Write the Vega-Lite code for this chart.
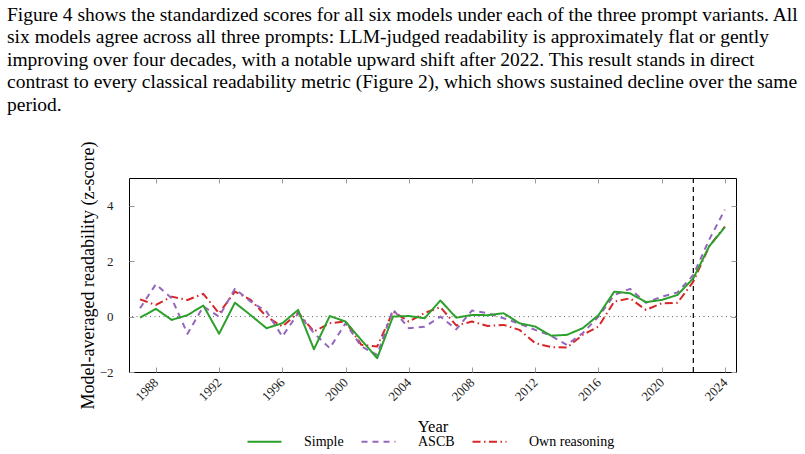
{
  "$schema": "https://vega.github.io/schema/vega-lite/v6.json",
  "width": 607,
  "height": 194,
  "autosize": {"type": "none"},
  "padding": {"left": 129, "top": 178, "right": 69, "bottom": 82},
  "background": "white",
  "title": {
    "text": [
      "Figure 4 shows the standardized scores for all six models under each of the three prompt variants. All",
      "six models agree across all three prompts: LLM-judged readability is approximately flat or gently",
      "improving over four decades, with a notable upward shift after 2022. This result stands in direct",
      "contrast to every classical readability metric (Figure 2), which shows sustained decline over the same",
      "period."
    ],
    "anchor": "start",
    "frame": "group",
    "dx": -122,
    "font": "Liberation Serif",
    "fontSize": 19.5,
    "fontWeight": "normal",
    "lineHeight": 22.4,
    "color": "#000000",
    "offset": 26
  },
  "config": {
    "view": {"stroke": "#000000", "strokeWidth": 1},
    "font": "Liberation Serif",
    "axis": {
      "grid": false,
      "domain": false,
      "tickColor": "#9a9a9a",
      "tickSize": -5,
      "tickWidth": 1,
      "labelFont": "Liberation Serif",
      "labelFontSize": 13,
      "labelColor": "#222222",
      "titleFont": "Liberation Serif",
      "titleFontWeight": "normal",
      "titleColor": "#000000"
    },
    "legend": {
      "labelFont": "Liberation Serif",
      "labelFontSize": 14,
      "labelFontWeight": "normal",
      "labelColor": "#000000"
    }
  },
  "datasets": {
    "scores": [
      {"year": 1987, "prompt": "Own reasoning", "z": 0.62},
      {"year": 1988, "prompt": "Own reasoning", "z": 0.42},
      {"year": 1989, "prompt": "Own reasoning", "z": 0.72},
      {"year": 1990, "prompt": "Own reasoning", "z": 0.6},
      {"year": 1991, "prompt": "Own reasoning", "z": 0.82},
      {"year": 1992, "prompt": "Own reasoning", "z": 0.12},
      {"year": 1993, "prompt": "Own reasoning", "z": 0.9},
      {"year": 1994, "prompt": "Own reasoning", "z": 0.6},
      {"year": 1995, "prompt": "Own reasoning", "z": 0.0},
      {"year": 1996, "prompt": "Own reasoning", "z": -0.36},
      {"year": 1997, "prompt": "Own reasoning", "z": 0.14},
      {"year": 1998, "prompt": "Own reasoning", "z": -0.54},
      {"year": 1999, "prompt": "Own reasoning", "z": -0.24},
      {"year": 2000, "prompt": "Own reasoning", "z": -0.18},
      {"year": 2001, "prompt": "Own reasoning", "z": -1.02},
      {"year": 2002, "prompt": "Own reasoning", "z": -1.08},
      {"year": 2003, "prompt": "Own reasoning", "z": 0.18},
      {"year": 2004, "prompt": "Own reasoning", "z": -0.18},
      {"year": 2005, "prompt": "Own reasoning", "z": 0.13},
      {"year": 2006, "prompt": "Own reasoning", "z": 0.34},
      {"year": 2007, "prompt": "Own reasoning", "z": -0.32},
      {"year": 2008, "prompt": "Own reasoning", "z": -0.18},
      {"year": 2009, "prompt": "Own reasoning", "z": -0.34},
      {"year": 2010, "prompt": "Own reasoning", "z": -0.3},
      {"year": 2011, "prompt": "Own reasoning", "z": -0.48},
      {"year": 2012, "prompt": "Own reasoning", "z": -0.96},
      {"year": 2013, "prompt": "Own reasoning", "z": -1.1},
      {"year": 2014, "prompt": "Own reasoning", "z": -1.12},
      {"year": 2015, "prompt": "Own reasoning", "z": -0.66},
      {"year": 2016, "prompt": "Own reasoning", "z": -0.36},
      {"year": 2017, "prompt": "Own reasoning", "z": 0.54},
      {"year": 2018, "prompt": "Own reasoning", "z": 0.66},
      {"year": 2019, "prompt": "Own reasoning", "z": 0.24},
      {"year": 2020, "prompt": "Own reasoning", "z": 0.48},
      {"year": 2021, "prompt": "Own reasoning", "z": 0.5},
      {"year": 2022, "prompt": "Own reasoning", "z": 1.26},
      {"year": 2023, "prompt": "Own reasoning", "z": 2.53},
      {"year": 2024, "prompt": "Own reasoning", "z": 3.25},
      {"year": 1987, "prompt": "ASCB", "z": 0.3},
      {"year": 1988, "prompt": "ASCB", "z": 1.17},
      {"year": 1989, "prompt": "ASCB", "z": 0.66},
      {"year": 1990, "prompt": "ASCB", "z": -0.62},
      {"year": 1991, "prompt": "ASCB", "z": 0.36},
      {"year": 1992, "prompt": "ASCB", "z": 0.0},
      {"year": 1993, "prompt": "ASCB", "z": 1.0},
      {"year": 1994, "prompt": "ASCB", "z": 0.54},
      {"year": 1995, "prompt": "ASCB", "z": 0.18},
      {"year": 1996, "prompt": "ASCB", "z": -0.72},
      {"year": 1997, "prompt": "ASCB", "z": 0.12},
      {"year": 1998, "prompt": "ASCB", "z": -0.6},
      {"year": 1999, "prompt": "ASCB", "z": -1.14},
      {"year": 2000, "prompt": "ASCB", "z": -0.24},
      {"year": 2001, "prompt": "ASCB", "z": -1.08},
      {"year": 2002, "prompt": "ASCB", "z": -1.38},
      {"year": 2003, "prompt": "ASCB", "z": 0.26},
      {"year": 2004, "prompt": "ASCB", "z": -0.42},
      {"year": 2005, "prompt": "ASCB", "z": -0.37},
      {"year": 2006, "prompt": "ASCB", "z": 0.0},
      {"year": 2007, "prompt": "ASCB", "z": -0.46},
      {"year": 2008, "prompt": "ASCB", "z": 0.22},
      {"year": 2009, "prompt": "ASCB", "z": 0.12},
      {"year": 2010, "prompt": "ASCB", "z": -0.06},
      {"year": 2011, "prompt": "ASCB", "z": -0.26},
      {"year": 2012, "prompt": "ASCB", "z": -0.48},
      {"year": 2013, "prompt": "ASCB", "z": -0.69},
      {"year": 2014, "prompt": "ASCB", "z": -1.02},
      {"year": 2015, "prompt": "ASCB", "z": -0.6},
      {"year": 2016, "prompt": "ASCB", "z": 0.0},
      {"year": 2017, "prompt": "ASCB", "z": 0.78},
      {"year": 2018, "prompt": "ASCB", "z": 1.0},
      {"year": 2019, "prompt": "ASCB", "z": 0.5},
      {"year": 2020, "prompt": "ASCB", "z": 0.72},
      {"year": 2021, "prompt": "ASCB", "z": 0.87},
      {"year": 2022, "prompt": "ASCB", "z": 1.5},
      {"year": 2023, "prompt": "ASCB", "z": 2.77},
      {"year": 2024, "prompt": "ASCB", "z": 3.86},
      {"year": 1987, "prompt": "Simple", "z": -0.04},
      {"year": 1988, "prompt": "Simple", "z": 0.28},
      {"year": 1989, "prompt": "Simple", "z": -0.12},
      {"year": 1990, "prompt": "Simple", "z": 0.05},
      {"year": 1991, "prompt": "Simple", "z": 0.4},
      {"year": 1992, "prompt": "Simple", "z": -0.62},
      {"year": 1993, "prompt": "Simple", "z": 0.5},
      {"year": 1994, "prompt": "Simple", "z": 0.05},
      {"year": 1995, "prompt": "Simple", "z": -0.42},
      {"year": 1996, "prompt": "Simple", "z": -0.24},
      {"year": 1997, "prompt": "Simple", "z": 0.24},
      {"year": 1998, "prompt": "Simple", "z": -1.18},
      {"year": 1999, "prompt": "Simple", "z": 0.02},
      {"year": 2000, "prompt": "Simple", "z": -0.18},
      {"year": 2001, "prompt": "Simple", "z": -0.85},
      {"year": 2002, "prompt": "Simple", "z": -1.5},
      {"year": 2003, "prompt": "Simple", "z": 0.0},
      {"year": 2004, "prompt": "Simple", "z": 0.02},
      {"year": 2005, "prompt": "Simple", "z": -0.06},
      {"year": 2006, "prompt": "Simple", "z": 0.58},
      {"year": 2007, "prompt": "Simple", "z": -0.04},
      {"year": 2008, "prompt": "Simple", "z": 0.06},
      {"year": 2009, "prompt": "Simple", "z": 0.05},
      {"year": 2010, "prompt": "Simple", "z": 0.12},
      {"year": 2011, "prompt": "Simple", "z": -0.24},
      {"year": 2012, "prompt": "Simple", "z": -0.36},
      {"year": 2013, "prompt": "Simple", "z": -0.69},
      {"year": 2014, "prompt": "Simple", "z": -0.66},
      {"year": 2015, "prompt": "Simple", "z": -0.42},
      {"year": 2016, "prompt": "Simple", "z": 0.05},
      {"year": 2017, "prompt": "Simple", "z": 0.9},
      {"year": 2018, "prompt": "Simple", "z": 0.84},
      {"year": 2019, "prompt": "Simple", "z": 0.52},
      {"year": 2020, "prompt": "Simple", "z": 0.6},
      {"year": 2021, "prompt": "Simple", "z": 0.78},
      {"year": 2022, "prompt": "Simple", "z": 1.38},
      {"year": 2023, "prompt": "Simple", "z": 2.53},
      {"year": 2024, "prompt": "Simple", "z": 3.23}
    ]
  },
  "layer": [
    {
      "description": "Dotted reference line at z = 0",
      "data": {"values": [{"z": 0}]},
      "mark": {"type": "rule", "color": "#666666", "strokeWidth": 1, "strokeDash": [1, 3.5]},
      "encoding": {
        "y": {"field": "z", "type": "quantitative", "axis": null}
      }
    },
    {
      "description": "Dashed marker at 2022",
      "data": {"values": [{"year": 2022}]},
      "mark": {"type": "rule", "color": "#000000", "strokeWidth": 1.2, "strokeDash": [5, 4]},
      "encoding": {
        "x": {"field": "year", "type": "quantitative", "axis": null}
      }
    },
    {
      "data": {"name": "scores"},
      "mark": {"type": "line", "strokeWidth": 2, "strokeJoin": "round"},
      "encoding": {
        "x": {
          "field": "year",
          "type": "quantitative",
          "scale": {"domain": [1986.3, 2024.7], "nice": false, "zero": false},
          "axis": {
            "orient": "bottom",
            "title": "Year",
            "titleFontSize": 16.5,
            "titleY": 59,
            "titleBaseline": "alphabetic",
            "values": [1988, 1992, 1996, 2000, 2004, 2008, 2012, 2016, 2020, 2024],
            "format": "d",
            "labelAngle": -45,
            "labelAlign": "right",
            "labelBaseline": "middle",
            "labelPadding": 13
          }
        },
        "y": {
          "field": "z",
          "type": "quantitative",
          "scale": {"domain": [-2, 5], "nice": false, "zero": false},
          "axis": {
            "orient": "left",
            "title": "Model-averaged readability (z-score)",
            "titleFontSize": 18,
            "titleX": -36,
            "titleY": 97,
            "titleAngle": -90,
            "titleAlign": "center",
            "titleBaseline": "alphabetic",
            "values": [-2, 0, 2, 4],
            "labelPadding": 21
          }
        },
        "color": {
          "field": "prompt",
          "type": "nominal",
          "scale": {
            "domain": ["Simple", "ASCB", "Own reasoning"],
            "range": ["#2ca02c", "#9467bd", "#d62728"]
          },
          "legend": {
            "title": null,
            "orient": "none",
            "direction": "horizontal",
            "legendX": 117,
            "legendY": 245,
            "symbolType": "stroke",
            "symbolSize": 1156,
            "symbolStrokeWidth": 2.2,
            "labelOffset": 21,
            "columnPadding": 13,
            "padding": 0
          }
        },
        "strokeDash": {
          "field": "prompt",
          "type": "nominal",
          "scale": {
            "domain": ["Simple", "ASCB", "Own reasoning"],
            "range": [[1, 0], [6, 5], [8, 3.5, 1.5, 3.5]]
          },
          "legend": null
        }
      }
    },
    {
      "description": "Inward ticks on the top and right edges of the frame",
      "data": {"name": "scores"},
      "mark": {"type": "point", "opacity": 0},
      "encoding": {
        "x": {
          "field": "year",
          "type": "quantitative",
          "axis": {
            "orient": "top",
            "title": null,
            "labels": false,
            "values": [1988, 1992, 1996, 2000, 2004, 2008, 2012, 2016, 2020, 2024]
          }
        },
        "y": {
          "field": "z",
          "type": "quantitative",
          "axis": {
            "orient": "right",
            "title": null,
            "labels": false,
            "values": [-2, 0, 2, 4]
          }
        }
      }
    }
  ]
}
